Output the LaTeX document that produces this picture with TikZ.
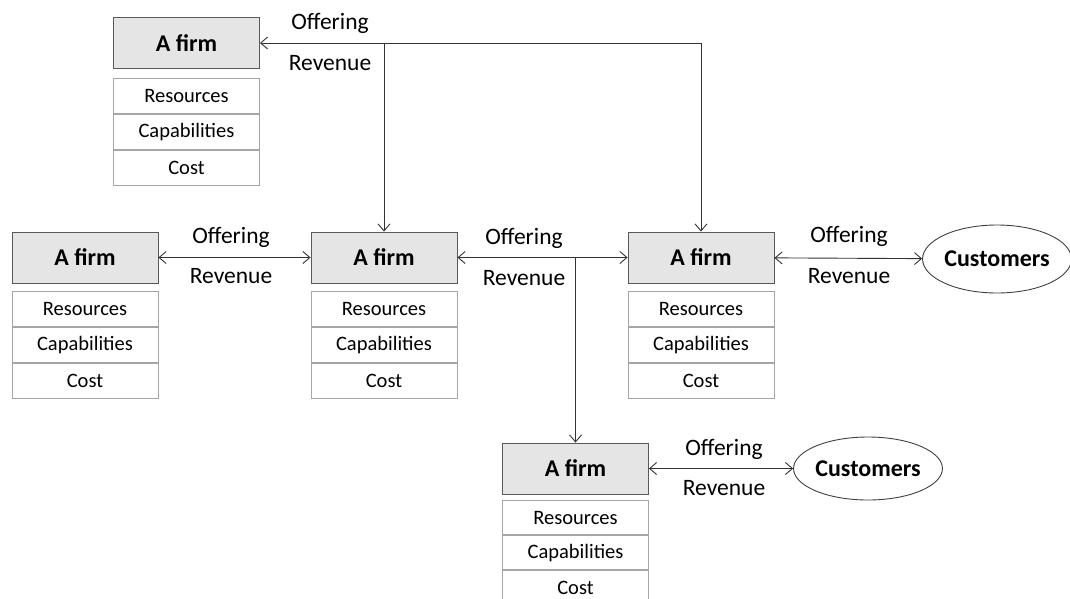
\documentclass[tikz,border=0pt]{standalone}
\usepackage{fontspec}
\setmainfont{Carlito}
\usetikzlibrary{arrows.meta,shapes.geometric,positioning}

\begin{document}
\begin{tikzpicture}[x=1pt,y=-1pt,
  firm/.style={draw=black!65, fill=black!10, line width=0.9pt, minimum width=146pt,
    minimum height=51pt, inner sep=0pt, font=\fontsize{24}{28}\selectfont\bfseries},
  cell/.style={draw=black!35, line width=0.9pt, minimum width=146pt, minimum height=35pt,
    inner sep=0pt, font=\fontsize{20.5}{24}\selectfont},
  cust/.style={ellipse, draw=black!75, line width=0.9pt, inner sep=0pt,
    font=\fontsize{24}{28}\selectfont\bfseries},
  flow/.style={draw=black!80, line width=0.9pt},
  tip/.style={-{Straight Barb[length=7pt,width=12pt]}},
  tips/.style={{Straight Barb[length=7pt,width=12pt]}-{Straight Barb[length=7pt,width=12pt]}},
  lbl/.style={inner sep=0pt, font=\fontsize{23.5}{28}\selectfont},
]
\useasboundingbox (0,0) rectangle (1070,598);

% firms with their resource tables
\node[firm] (f0) at (186.5,43) {A firm};
\node[firm] (f1) at (85,257.5) {A firm};
\node[firm] (f2) at (384,257.5) {A firm};
\node[firm] (f3) at (701,257.5) {A firm};
\node[firm] (f4) at (575.5,468.5) {A firm};

\foreach \f/\g in {f0/9pt,f1/8pt,f2/8pt,f3/8pt}{
  \node[cell, below=\g of \f] (\f r) {Resources};
  \node[cell, below=0pt of \f r] (\f c) {Capabilities};
  \node[cell, below=0pt of \f c] (\f k) {Cost};
}
\node[cell, minimum height=34pt, below=6pt of f4] (f4r) {Resources};
\node[cell, minimum height=34pt, below=0pt of f4r] (f4c) {Capabilities};
\node[cell, minimum height=34pt, below=0pt of f4c] (f4k) {Cost};

% customers
\node[cust, minimum width=146pt, minimum height=68pt] (c1) at (997,259) {Customers};
\node[cust, minimum width=143pt, minimum height=63pt] (c2) at (868,468.5) {Customers};

% two-way exchanges
\draw[flow, tips] (f1) -- (f2);
\draw[flow, tips] (f2) -- (f3);
\draw[flow, tips] (f3) -- (c1);
\draw[flow, tips] (f4) -- (c2);

% branch down to the lower firm
\draw[flow, tip] (f4.north |- f2.east) -- (f4.north);

% top distribution line
\coordinate (j1) at (f2.north |- f0.east);
\coordinate (j2) at (f3.north |- f0.east);
\draw[flow, tip] (j1) -- (f0.east);
\draw[flow] (j1) -- (j2);
\draw[flow, tip] (j1) -- (f2.north);
\draw[flow, tip] (j2) -- (f3.north);

% labels
\node[lbl] (o0) at (330,23) {Offering};
\node[lbl] (r0) at (330,63) {Revenue};
\node[lbl] (o1) at (231,237) {Offering};
\node[lbl] (r1) at (231,276) {Revenue};
\node[lbl] (o2) at (524,238) {Offering};
\node[lbl] (r2) at (524,278) {Revenue};
\node[lbl] (o3) at (849,236) {Offering};
\node[lbl] (r3) at (849,276) {Revenue};
\node[lbl] (o4) at (724,449) {Offering};
\node[lbl] (r4) at (724,488) {Revenue};
\end{tikzpicture}
\end{document}
